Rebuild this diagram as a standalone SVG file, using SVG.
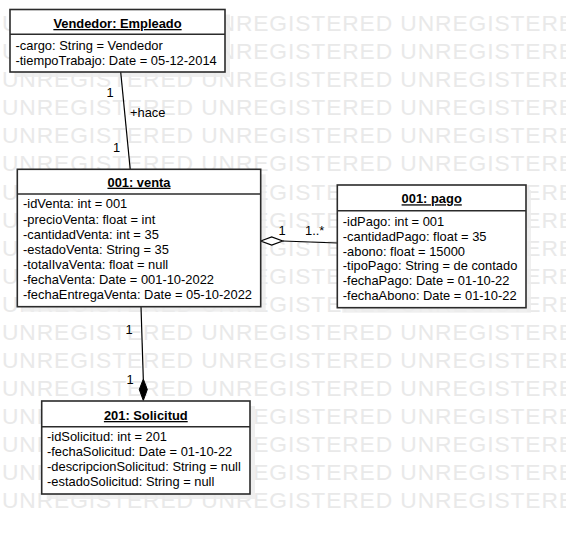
<svg xmlns="http://www.w3.org/2000/svg" width="566" height="534" viewBox="0 0 566 534">
<style>
text{font-family:"Liberation Sans",Arial,sans-serif;fill:#000}
.wm{font-size:22.8px;letter-spacing:0.9px;fill:#e9e9e9}
.t{font-size:12.9px;font-weight:bold;text-anchor:middle;text-decoration:underline}
.a{font-size:12.9px}
.lb{font-size:12.9px}
.box{fill:#fff;stroke:#2b2b2b;stroke-width:1.6}
.sh{fill:#ececec;opacity:0.85}
.div{stroke:#2b2b2b;stroke-width:1.4}
.ln{stroke:#000;stroke-width:1.2;fill:none}
</style>
<rect width="566" height="534" fill="#fff"/>
<g id="watermark">
<text class="wm" x="2" y="31.2">UNREGISTERED UNREGISTERED UNREGISTERE</text>
<text class="wm" x="2" y="59.25">UNREGISTERED UNREGISTERED UNREGISTERE</text>
<text class="wm" x="2" y="87.3">UNREGISTERED UNREGISTERED UNREGISTERE</text>
<text class="wm" x="2" y="115.35">UNREGISTERED UNREGISTERED UNREGISTERE</text>
<text class="wm" x="2" y="143.4">UNREGISTERED UNREGISTERED UNREGISTERE</text>
<text class="wm" x="2" y="171.45">UNREGISTERED UNREGISTERED UNREGISTERE</text>
<text class="wm" x="2" y="199.5">UNREGISTERED UNREGISTERED UNREGISTERE</text>
<text class="wm" x="2" y="227.55">UNREGISTERED UNREGISTERED UNREGISTERE</text>
<text class="wm" x="2" y="255.6">UNREGISTERED UNREGISTERED UNREGISTERE</text>
<text class="wm" x="2" y="283.65">UNREGISTERED UNREGISTERED UNREGISTERE</text>
<text class="wm" x="2" y="311.7">UNREGISTERED UNREGISTERED UNREGISTERE</text>
<text class="wm" x="2" y="339.75">UNREGISTERED UNREGISTERED UNREGISTERE</text>
<text class="wm" x="2" y="367.8">UNREGISTERED UNREGISTERED UNREGISTERE</text>
<text class="wm" x="2" y="395.85">UNREGISTERED UNREGISTERED UNREGISTERE</text>
<text class="wm" x="2" y="423.9">UNREGISTERED UNREGISTERED UNREGISTERE</text>
<text class="wm" x="2" y="451.95">UNREGISTERED UNREGISTERED UNREGISTERE</text>
<text class="wm" x="2" y="480">UNREGISTERED UNREGISTERED UNREGISTERE</text>
<text class="wm" x="2" y="508.05">UNREGISTERED UNREGISTERED UNREGISTERE</text>
</g>
<g id="shadows">
<rect class="sh" x="15" y="14.5" width="215" height="62.5"/>
<rect class="sh" x="22.3" y="174.3" width="243.4" height="137.4"/>
<rect class="sh" x="342.3" y="190" width="188.7" height="122.7"/>
<rect class="sh" x="46.7" y="406" width="208.3" height="93"/>
</g>
<g id="connectors">
<line class="ln" x1="120.7" y1="72" x2="130.2" y2="169.3"/>
<text class="lb" x="110" y="96.5" text-anchor="middle">1</text>
<text class="lb" x="130" y="116.5">+hace</text>
<text class="lb" x="116.5" y="151.5" text-anchor="middle">1</text>
<line class="ln" x1="282.7" y1="241" x2="337.3" y2="243"/>
<polygon points="260.7,241 271.7,237 282.7,241 271.7,245" fill="#fff" stroke="#000" stroke-width="1.2"/>
<text class="lb" x="282" y="235" text-anchor="middle">1</text>
<text class="lb" x="305" y="235">1..*</text>
<line class="ln" x1="141" y1="306.7" x2="143.3" y2="379"/>
<polygon points="143.3,379 147.3,389.5 143.3,400.5 139.3,389.5" fill="#000" stroke="#000" stroke-width="1"/>
<text class="lb" x="129" y="334" text-anchor="middle">1</text>
<text class="lb" x="130" y="384" text-anchor="middle">1</text>
</g>
<g id="vendedor">
<rect class="box" x="10" y="9.5" width="215" height="62.5"/>
<line class="div" x1="10" y1="34.3" x2="225" y2="34.3"/>
<text class="t" x="117.5" y="28">Vendedor: Empleado</text>
<text class="a" x="15.5" y="49.5">-cargo: String = Vendedor</text>
<text class="a" x="15.5" y="64.5">-tiempoTrabajo: Date = 05-12-2014</text>
</g>
<g id="venta">
<rect class="box" x="17.3" y="169.3" width="243.4" height="137.4"/>
<line class="div" x1="17.3" y1="194" x2="260.7" y2="194"/>
<text class="t" x="139" y="186.7">001: venta</text>
<text class="a" x="23" y="208.3">-idVenta: int = 001</text>
<text class="a" x="23" y="223.5">-precioVenta: float = int</text>
<text class="a" x="23" y="238.6">-cantidadVenta: int = 35</text>
<text class="a" x="23" y="253.8">-estadoVenta: String = 35</text>
<text class="a" x="23" y="269">-totalIvaVenta: float = null</text>
<text class="a" x="23" y="284.2">-fechaVenta: Date = 001-10-2022</text>
<text class="a" x="23" y="299.3">-fechaEntregaVenta: Date = 05-10-2022</text>
</g>
<g id="pago">
<rect class="box" x="337.3" y="185" width="188.7" height="122.7"/>
<line class="div" x1="337.3" y1="210.7" x2="526" y2="210.7"/>
<text class="t" x="431.7" y="203.3">001: pago</text>
<text class="a" x="342.8" y="225.7">-idPago: int = 001</text>
<text class="a" x="342.8" y="240.6">-cantidadPago: float = 35</text>
<text class="a" x="342.8" y="255.5">-abono: float = 15000</text>
<text class="a" x="342.8" y="270.4">-tipoPago: String = de contado</text>
<text class="a" x="342.8" y="285.3">-fechaPago: Date = 01-10-22</text>
<text class="a" x="342.8" y="300.2">-fechaAbono: Date = 01-10-22</text>
</g>
<g id="solicitud">
<rect class="box" x="41.7" y="401" width="208.3" height="93"/>
<line class="div" x1="41.7" y1="426.7" x2="250" y2="426.7"/>
<text class="t" x="145.8" y="420">201: Solicitud</text>
<text class="a" x="47" y="441">-idSolicitud: int = 201</text>
<text class="a" x="47" y="456">-fechaSolicitud: Date = 01-10-22</text>
<text class="a" x="47" y="471">-descripcionSolicitud: String = null</text>
<text class="a" x="47" y="486">-estadoSolicitud: String = null</text>
</g>
</svg>
